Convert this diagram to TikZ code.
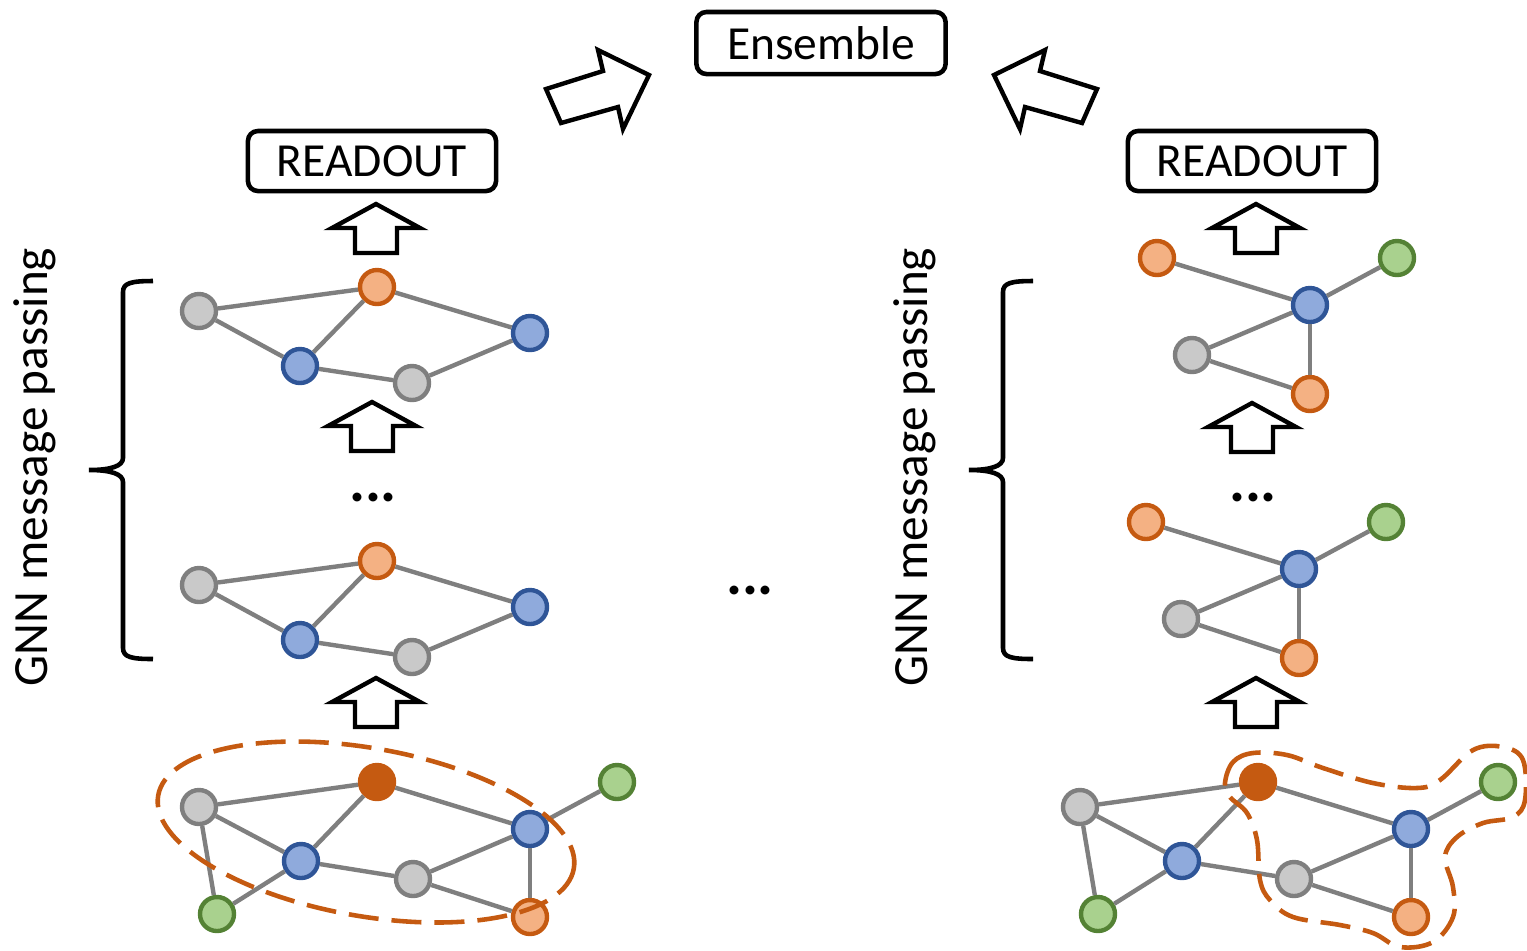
\documentclass[tikz,border=0pt]{standalone}
\usepackage{fontspec}
\setmainfont{Carlito}
\usepackage{tikz}
\usetikzlibrary{positioning, calc}

\definecolor{linkgray}{HTML}{7F7F7F}
\definecolor{fillgray}{HTML}{C9C9C9}
\definecolor{fillblue}{HTML}{8FAADC}
\definecolor{lineblue}{HTML}{2F5597}
\definecolor{fillorange}{HTML}{F4B183}
\definecolor{rootorange}{HTML}{C55A11}
\definecolor{fillgreen}{HTML}{A9D18E}
\definecolor{linegreen}{HTML}{548235}

\tikzset{
  gnode/.style={circle, minimum size=0.34cm, inner sep=0pt, line width=1.25pt},
  graynode/.style={gnode, fill=fillgray, draw=linkgray},
  bluenode/.style={gnode, fill=fillblue, draw=lineblue},
  orangenode/.style={gnode, fill=fillorange, draw=rootorange},
  rootnode/.style={gnode, fill=rootorange, draw=rootorange},
  greennode/.style={gnode, fill=fillgreen, draw=linegreen},
  link/.style={draw=linkgray, line width=1.25pt},
  labelbox/.style={draw, rounded corners=0.1cm, line width=1.3pt, inner sep=0pt,
                   font=\fontsize{13.5}{15}\selectfont},
  blockarr/.style={draw, line width=1.25pt, fill=white, line join=miter},
  hood/.style={draw=rootorange, line width=1.3pt, dash pattern=on 0.3cm off 0.13cm},
  dotlabel/.style={font=\fontsize{17}{20}\selectfont\bfseries, inner sep=0pt},
  sidelabel/.style={rotate=90, font=\fontsize{14}{16}\selectfont}
}

% hollow up arrow, tip at (#1,#2)
\newcommand{\blockup}[2]{%
  \draw[blockarr] (#1,#2) -- ++(44,24) -- ++(-23,0) -- ++(0,25) -- ++(-42,0)
    -- ++(0,-25) -- ++(-23,0) -- cycle;}
% curly brace, vertical stroke at x=#1
\newcommand{\gnnbrace}[1]{%
  \draw[line width=1.3pt] (#1+30,281) .. controls (#1+8,281) and (#1,283) .. (#1,292)
    -- (#1,458) .. controls (#1,466) and (#1-12,470) .. (#1-34,470)
    .. controls (#1-12,470) and (#1,474) .. (#1,482)
    -- (#1,648) .. controls (#1,657) and (#1+8,659) .. (#1+30,659);}

\begin{document}
\begin{tikzpicture}[x=0.01cm, y=-0.01cm]
  \useasboundingbox (0,0) rectangle (1527,950);

  % Ensemble and readouts
  \node[labelbox, minimum width=2.49cm, minimum height=0.62cm] (ens) at (821,43) {Ensemble};
  \node[labelbox, minimum width=2.48cm, minimum height=0.60cm] (readL) at (372,161) {READOUT};
  \node[labelbox, minimum width=2.48cm, minimum height=0.60cm] (readR) at (1252,161) {READOUT};
  \draw[blockarr] (546,89) -- (603,71) -- (598,50) -- (649,75) -- (623,129)
    -- (618,107) -- (561,123) -- cycle;
  \draw[blockarr] (1097,89) -- (1040,71) -- (1045,50) -- (994,75) -- (1020,129)
    -- (1025,107) -- (1082,123) -- cycle;

  % Layer arrows
  \foreach \x/\y in {376/204, 372/402, 376/678, 1256/204, 1252/403, 1256/678}{
    \blockup{\x}{\y}
  }

  % Braces and side labels
  \gnnbrace{123}
  \gnnbrace{1003}
  \node[sidelabel] (gnnL) at (35,467) {GNN message passing};
  \node[sidelabel] (gnnR) at (915,467) {GNN message passing};

  \node[dotlabel] (dotsL) at (373,497) {...};
  \node[dotlabel] (dotsM) at (750,590) {...};
  \node[dotlabel] (dotsR) at (1253,497) {...};

  % Left column: hidden layers
  \foreach \dy/\lay in {0/1, 274/2}{
    \node[graynode] (L\lay a) at (199,311+\dy) {};
    \node[orangenode] (L\lay b) at (377,287+\dy) {};
    \node[bluenode] (L\lay c) at (300,366+\dy) {};
    \node[graynode] (L\lay d) at (412,383+\dy) {};
    \node[bluenode] (L\lay e) at (530,333+\dy) {};
    \foreach \u/\v in {a/b, a/c, b/c, c/d, d/e, b/e}
      \draw[link] (L\lay\u) -- (L\lay\v);
  }

  % Right column: hidden layers
  \foreach \dx/\dy/\lay in {0/0/1, -11/264/2}{
    \node[orangenode] (R\lay a) at (1157+\dx,258+\dy) {};
    \node[greennode] (R\lay b) at (1397+\dx,258+\dy) {};
    \node[bluenode] (R\lay c) at (1310+\dx,305+\dy) {};
    \node[graynode] (R\lay d) at (1192+\dx,355+\dy) {};
    \node[orangenode] (R\lay e) at (1310+\dx,394+\dy) {};
    \foreach \u/\v in {a/c, b/c, c/d, d/e, c/e}
      \draw[link] (R\lay\u) -- (R\lay\v);
  }

  % Input graphs
  \foreach \dx/\side in {0/L, 881/R}{
    \node[graynode] (\side0a) at (199+\dx,807) {};
    \node[rootnode] (\side0b) at (377+\dx,782) {};
    \node[bluenode] (\side0c) at (301+\dx,861) {};
    \node[graynode] (\side0d) at (413+\dx,879) {};
    \node[bluenode] (\side0e) at (530+\dx,829) {};
    \node[greennode] (\side0f) at (617+\dx,782) {};
    \node[greennode] (\side0g) at (217+\dx,914) {};
    \node[orangenode] (\side0h) at (530+\dx,917) {};
    \foreach \u/\v in {a/b, a/c, a/g, b/c, b/e, c/g, c/d, d/e, d/h, e/f, e/h}
      \draw[link] (\side0\u) -- (\side0\v);
  }

  % Subgraph outlines
  \draw[hood, rotate around={-10:(366,832)}] (366,832) ellipse [x radius=211, y radius=84];
  \draw[hood] plot[smooth cycle, tension=0.6] coordinates {
    (1225,783) (1233,762) (1253,753) (1287,755) (1323,768) (1373,783)
    (1417,788) (1440,780) (1473,750) (1503,747) (1523,760) (1525,800)
    (1513,817) (1483,823) (1457,837) (1445,857) (1453,887) (1453,917)
    (1433,942) (1400,947) (1373,933) (1340,925) (1293,917) (1270,900)
    (1260,880) (1257,840) (1247,813) (1230,797)};
\end{tikzpicture}
\end{document}
